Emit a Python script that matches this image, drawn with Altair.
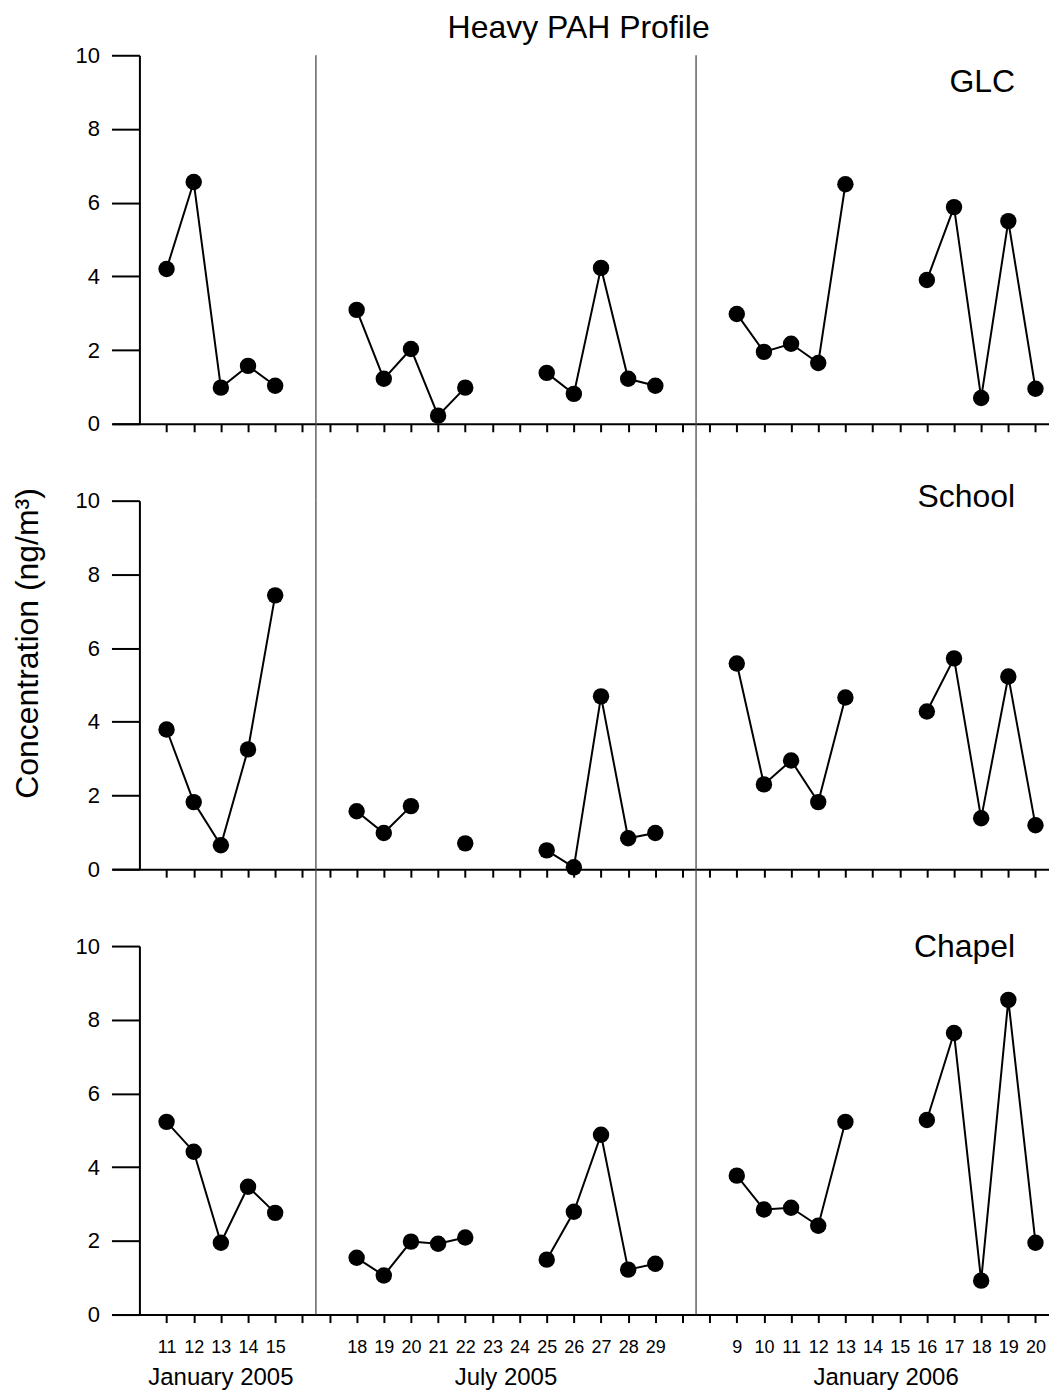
import altair as alt
import pandas as pd

# ---------------- data ----------------
sites = ["GLC", "School", "Chapel"]
period_names = ["January 2005", "July 2005", "January 2006"]
days_jan05 = [11, 12, 13, 14, 15]
days_jul05 = [18, 19, 20, 21, 22, 23, 24, 25, 26, 27, 28, 29]
days_jan06 = [9, 10, 11, 12, 13, 14, 15, 16, 17, 18, 19, 20]

glc_jan05 = [4.20, 6.56, 0.98, 1.57, 1.03]
glc_jul05 = [3.09, 1.22, 2.03, 0.22, 0.98, None, None, 1.38, 0.81, 4.23, 1.22, 1.03]
glc_jan06 = [2.98, 1.95, 2.17, 1.65, 6.50, None, None, 3.90, 5.88, 0.70, 5.50, 0.95]

school_jan05 = [3.79, 1.82, 0.65, 3.25, 7.43]
school_jul05 = [1.57, 0.98, 1.71, None, 0.70, None, None, 0.51, 0.05, 4.69, 0.84, 0.98]
school_jan06 = [5.58, 2.30, 2.95, 1.82, 4.66, None, None, 4.28, 5.72, 1.38, 5.23, 1.19]

chapel_jan05 = [5.23, 4.42, 1.95, 3.47, 2.76]
chapel_jul05 = [1.54, 1.06, 1.98, 1.92, 2.09, None, None, 1.49, 2.79, 4.88, 1.22, 1.38]
chapel_jan06 = [3.77, 2.85, 2.90, 2.41, 5.23, None, None, 5.28, 7.64, 0.92, 8.54, 1.95]

site_values = {
    "GLC": [glc_jan05, glc_jul05, glc_jan06],
    "School": [school_jan05, school_jul05, school_jan06],
    "Chapel": [chapel_jan05, chapel_jul05, chapel_jan06],
}
period_days = [days_jan05, days_jul05, days_jan06]

# ---------------- layout ----------------
FONT = "Liberation Sans"
PX = 27.19            # pixels per day slot
W = 938
H = 369
GAP = 77
X_MIN = -2.0
X_MAX = X_MIN + W / PX
period_start = [0, 7, 21]          # slot index of the first day of each period
separators = [5.5, 19.5]

# tick labels for every slot
n_slots = period_start[-1] + len(days_jan06)
slot_labels = [""] * n_slots
for start, days in zip(period_start, period_days):
    for k, d in enumerate(days):
        slot_labels[start + k] = str(d)
label_expr = "[" + ",".join("'%s'" % s for s in slot_labels) + "][datum.value]"

period_centers = [start + (len(days) - 1) / 2 for start, days in zip(period_start, period_days)]

label_y = {"GLC": 9.0, "School": 9.84, "Chapel": 9.70}
LABEL_X = 31.25

xs = alt.Scale(domain=[X_MIN, X_MAX], nice=False, zero=False)
ys = alt.Scale(domain=[0, 10], nice=False)


def x_axis(show_labels):
    kw = dict(values=list(range(n_slots)), title=None, grid=False,
              tickSize=8, tickWidth=2, tickColor="black",
              domainColor="black", domainWidth=2,
              labelOverlap=False, labelFlush=False)
    if show_labels:
        kw.update(labels=True, labelExpr=label_expr, labelFont=FONT,
                  labelFontSize=18, labelColor="black", labelPadding=16)
    else:
        kw.update(labels=False)
    return alt.Axis(**kw)


y_axis = alt.Axis(values=[0, 2, 4, 6, 8, 10], title=None, grid=False,
                  tickSize=28, tickWidth=2, tickColor="black",
                  domainColor="black", domainWidth=2, offset=-PX,
                  labelFont=FONT, labelFontSize=22, labelColor="black",
                  labelPadding=12, labelFlush=False, labelOverlap=False)


def panel(site, position):
    rows = []
    for p, (start, vals) in enumerate(zip(period_start, site_values[site])):
        seg = 0
        for k, v in enumerate(vals):
            if v is None:
                seg += 1
                continue
            rows.append({"idx": start + k, "value": v, "seg": f"{site}-{p}-{seg}"})
    df = pd.DataFrame(rows)

    X = alt.X("idx:Q", scale=xs, axis=x_axis(position == "bottom"))
    Y = alt.Y("value:Q", scale=ys, axis=y_axis)

    rule_end = H if position == "bottom" else H + GAP
    rules = alt.Chart(pd.DataFrame({"idx": separators})).mark_rule(
        color="#4a4a4a", strokeWidth=1.3
    ).encode(x=X, y=alt.value(0), y2=alt.value(rule_end))

    line = alt.Chart(df).mark_line(color="black", strokeWidth=2, clip=False).encode(
        x=X, y=Y, detail="seg:N")
    pts = alt.Chart(df).mark_circle(color="black", opacity=1, size=270, clip=False).encode(
        x=X, y=Y)
    lab = alt.Chart(pd.DataFrame({"idx": [LABEL_X], "value": [label_y[site]], "t": [site]})).mark_text(
        align="right", baseline="alphabetic", font=FONT, fontSize=32, color="black"
    ).encode(x=X, y=Y, text="t:N")

    layers = [rules, line, pts, lab]

    if position == "top":
        layers.append(
            alt.Chart(pd.DataFrame({"t": ["Heavy PAH Profile"]})).mark_text(
                align="center", baseline="alphabetic", font=FONT, fontSize=32, color="black"
            ).encode(text="t:N", x=alt.value(W / 2 - 2), y=alt.value(-17))
        )
    if position == "middle":
        layers.append(
            alt.Chart(pd.DataFrame({"t": ["Concentration (ng/m³)"]})).mark_text(
                align="center", baseline="alphabetic", font=FONT, fontSize=32,
                color="black", angle=270
            ).encode(text="t:N", x=alt.value(-74), y=alt.value(143))
        )
    if position == "bottom":
        layers.append(
            alt.Chart(pd.DataFrame({"idx": period_centers, "t": period_names})).mark_text(
                align="center", baseline="alphabetic", font=FONT, fontSize=24, color="black"
            ).encode(x=X, text="t:N", y=alt.value(H + 71))
        )
    return alt.layer(*layers).properties(width=W, height=H)


chart = alt.vconcat(
    panel("GLC", "top"),
    panel("School", "middle"),
    panel("Chapel", "bottom"),
    spacing=GAP,
    bounds="flush",
).properties(
    padding={"left": 3.4, "top": 3.4, "right": 0, "bottom": 0},
    background="white",
).configure_view(stroke=None)

chart.save("out.html", embed_options={"renderer": "svg", "actions": False})
